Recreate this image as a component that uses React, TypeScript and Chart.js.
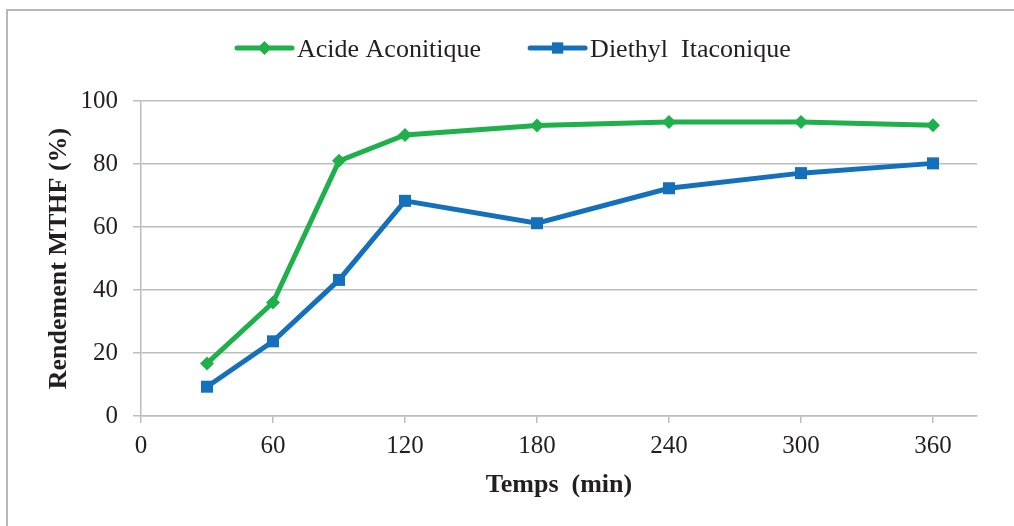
import React, { useEffect, useRef } from "react";
import { Chart, registerables } from "chart.js";

Chart.register(...registerables);

// ---- data ----
const times = [30, 60, 90, 120, 180, 240, 300, 360];
const acideAconitique = [16.7, 36.0, 81.0, 89.2, 92.2, 93.3, 93.3, 92.3];
const diethylItaconique = [9.3, 23.7, 43.2, 68.3, 61.2, 72.3, 77.1, 80.2];
const seriesNames = ["Acide Aconitique", "Diethyl  Itaconique"];
const xTickValues = [0, 60, 120, 180, 240, 300, 360];
const yTickValues = [0, 20, 40, 60, 80, 100];
const xTitle = "Temps  (min)";
const yTitle = "Rendement MTHF (%)";

// ---- styles ----
const GREEN = "#1FB04C";
const BLUE = "#1570BC";
const GRID = "#BDBDBD";
const TEXT = "#231F20";
const FAMILY = "'Liberation Serif', 'Times New Roman', serif";

function drawMarker(ctx: CanvasRenderingContext2D, style: string, x: number, y: number, r: number, color: string) {
  ctx.save();
  ctx.fillStyle = color;
  ctx.beginPath();
  if (style === "rectRot") {
    ctx.moveTo(x - r, y);
    ctx.lineTo(x, y - r);
    ctx.lineTo(x + r, y);
    ctx.lineTo(x, y + r);
  } else {
    const s = Math.SQRT1_2 * r;
    ctx.rect(x - s, y - s, 2 * s, 2 * s);
  }
  ctx.closePath();
  ctx.fill();
  ctx.restore();
}

const lineLegend = {
  id: "lineLegend",
  afterDraw(chart: any) {
    const ctx: CanvasRenderingContext2D = chart.ctx;
    ctx.save();
    ctx.font = `26px ${FAMILY}`;
    ctx.textBaseline = "alphabetic";
    ctx.textAlign = "left";
    let x = 237;
    const y = 48;
    chart.data.datasets.forEach((ds: any) => {
      ctx.strokeStyle = ds.borderColor;
      ctx.lineWidth = 5;
      ctx.lineCap = "round";
      ctx.beginPath();
      ctx.moveTo(x, y);
      ctx.lineTo(x + 55, y);
      ctx.stroke();
      drawMarker(ctx, ds.pointStyle, x + 27.5, y, ds.pointStyle === "rectRot" ? 7 : 8, ds.borderColor);
      ctx.fillStyle = TEXT;
      ctx.fillText(ds.label, x + 60, y + 9);
      const w = ctx.measureText(ds.label).width;
      x = x + 60 + w + 49;
    });
    ctx.restore();
  },
};

export default function App() {
  const ref = useRef<HTMLCanvasElement | null>(null);

  useEffect(() => {
    if (!ref.current) return;
    const tickFont = { family: FAMILY, size: 25 };
    const titleFont = { family: FAMILY, size: 26, weight: "bold" as const };
    const chart = new Chart(ref.current, {
      type: "line",
      data: {
        datasets: [
          {
            label: seriesNames[0],
            data: times.map((t, i) => ({ x: t, y: acideAconitique[i] })),
            borderColor: GREEN,
            backgroundColor: GREEN,
            borderWidth: 5,
            pointStyle: "rectRot",
            pointRadius: 7,
            pointBorderWidth: 0,
            tension: 0,
          },
          {
            label: seriesNames[1],
            data: times.map((t, i) => ({ x: t, y: diethylItaconique[i] })),
            borderColor: BLUE,
            backgroundColor: BLUE,
            borderWidth: 5,
            pointStyle: "rect",
            pointRadius: 8.5,
            pointBorderWidth: 0,
            tension: 0,
          },
        ],
      },
      options: {
        animation: false,
        responsive: false,
        devicePixelRatio: 1,
        layout: { padding: { top: 101, right: 37, left: 0, bottom: 0 } },
        plugins: { legend: { display: false }, tooltip: { enabled: false } },
        scales: {
          x: {
            type: "linear",
            min: 0,
            max: 380,
            afterBuildTicks: (s: any) => {
              s.ticks = xTickValues.map((v) => ({ value: v }));
            },
            afterFit: (s: any) => {
              s.height = 110;
            },
            grid: { drawOnChartArea: false, drawTicks: true, tickLength: 7, color: GRID, lineWidth: 1.5 },
            border: { display: true, color: GRID, width: 1.5 },
            ticks: { font: tickFont, color: TEXT, padding: 8, maxRotation: 0, autoSkip: false },
            title: { display: true, text: xTitle, font: titleFont, color: TEXT, padding: { top: 0, bottom: 25 } },
          },
          y: {
            type: "linear",
            min: 0,
            max: 100,
            afterBuildTicks: (s: any) => {
              s.ticks = yTickValues.map((v) => ({ value: v }));
            },
            afterFit: (s: any) => {
              s.width = 141;
            },
            grid: { color: GRID, lineWidth: 1.5, tickLength: 8 },
            border: { display: true, color: GRID, width: 1.5 },
            ticks: { font: tickFont, color: TEXT, padding: 15 },
            title: { display: true, text: yTitle, font: titleFont, color: TEXT, padding: { top: 44, bottom: 0 } },
          },
        },
      },
      plugins: [lineLegend],
    });
    return () => chart.destroy();
  }, []);

  return (
    <div
      style={{
        position: "fixed",
        left: 0,
        top: 0,
        width: 1014,
        height: 526,
        overflow: "hidden",
        background: "#fff",
      }}
    >
      <div
        style={{
          position: "absolute",
          left: 6,
          top: 9,
          width: 1100,
          height: 700,
          borderLeft: "2px solid #B8B8B8",
          borderTop: "2px solid #B8B8B8",
        }}
      />
      <canvas ref={ref} width={1014} height={526} style={{ position: "absolute", left: 0, top: 0, display: "block" }} />
    </div>
  );
}
